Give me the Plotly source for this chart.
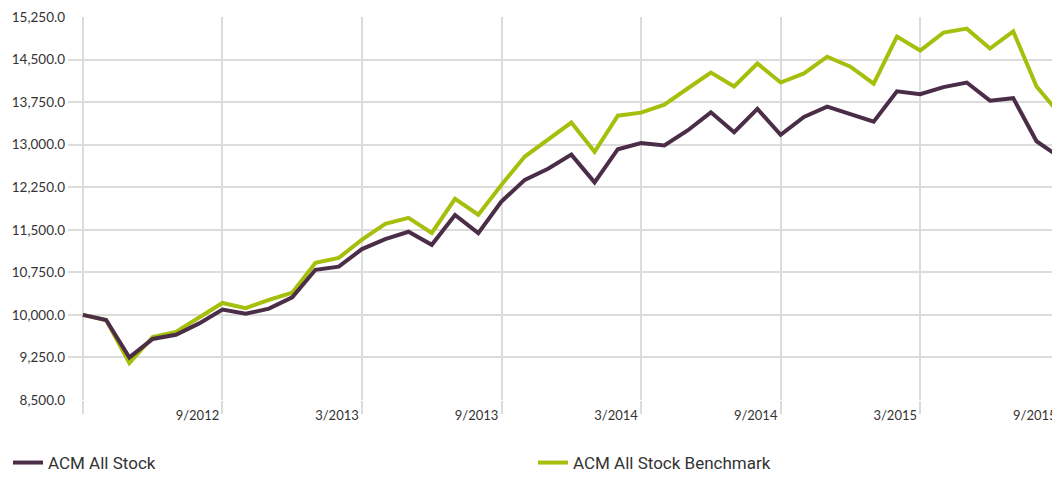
import plotly.graph_objects as go

months = [f"{m}/{y}" for y in range(2012, 2016) for m in range(1, 13)]
months = months[months.index("3/2012"):months.index("9/2015") + 1]

acm_all_stock = [10000, 9910, 9250, 9575, 9650, 9850, 10095, 10020, 10110, 10310,
                 10795, 10850, 11160, 11335, 11465, 11235, 11760, 11440, 12000, 12380,
                 12575, 12825, 12335, 12920, 13030, 12985, 13250, 13570, 13220, 13630,
                 13175, 13490, 13670, 13540, 13405, 13940, 13890, 14015, 14095, 13775,
                 13820, 13060, 12780]

acm_benchmark = [10000, 9910, 9150, 9610, 9700, 9945, 10210, 10120, 10265, 10390,
                 10920, 11005, 11325, 11605, 11710, 11445, 12045, 11765, 12295, 12790,
                 13090, 13390, 12875, 13510, 13565, 13705, 13990, 14270, 14025, 14430,
                 14095, 14255, 14550, 14375, 14075, 14905, 14660, 14975, 15045, 14695,
                 14995, 14025, 13540]

tick_months = ["3/2012", "9/2012", "3/2013", "9/2013", "3/2014", "9/2014", "3/2015", "9/2015"]
tick_labels = ["", "9/2012", "3/2013", "9/2013", "3/2014", "9/2014", "3/2015", "9/2015"]
y_ticks = [8500, 9250, 10000, 10750, 11500, 12250, 13000, 13750, 14500, 15250]

PURPLE = "#4b2d47"
GREEN = "#a6bf0d"
GRID = "#dcdcdc"

fig = go.Figure()
fig.add_trace(go.Scatter(x=months, y=acm_benchmark, mode="lines", name="ACM All Stock Benchmark",
                         line=dict(color=GREEN, width=4), legend="legend2"))
fig.add_trace(go.Scatter(x=months, y=acm_all_stock, mode="lines", name="ACM All Stock",
                         line=dict(color=PURPLE, width=4), legend="legend"))

legend_font = dict(family="Roboto, sans-serif", size=17, color="#333333")
legend_common = dict(orientation="h", xref="container", yref="container", y=-0.045,
                     xanchor="left", yanchor="bottom", itemwidth=30,
                     bgcolor="rgba(0,0,0,0)", font=legend_font)

# page body keeps its default 8px margin, so the figure itself is 1052 x 473
fig.update_layout(
    width=1052, height=473,
    margin=dict(l=60, r=0, t=9, b=81, autoexpand=False),
    paper_bgcolor="white", plot_bgcolor="white",
    font=dict(family="Lato, sans-serif", color="#333333", size=13),
    showlegend=True,
    legend=dict(x=-0.004, **legend_common),
    legend2=dict(x=0.499, **legend_common),
    xaxis=dict(type="category", categoryorder="array", categoryarray=months,
               range=[-0.64, 42.01], automargin=False,
               tickmode="array", tickvals=tick_months, ticktext=tick_labels,
               showgrid=True, gridcolor=GRID, gridwidth=2,
               ticks="outside", ticklen=13, tickcolor=GRID, tickwidth=2,
               ticklabelshift=-25, ticklabelstandoff=-10,
               showline=False, zeroline=False,
               tickfont=dict(size=13, color="#333333")),
    yaxis=dict(range=[8500, 15250], tickmode="array", tickvals=y_ticks, automargin=False,
               tickformat=",.1f", showgrid=True, gridcolor=GRID, gridwidth=2,
               zeroline=False, showline=False, ticks="", ticklabelstandoff=2,
               tickfont=dict(size=13.5, color="#333333")),
)

fig.write_html("out.html")
